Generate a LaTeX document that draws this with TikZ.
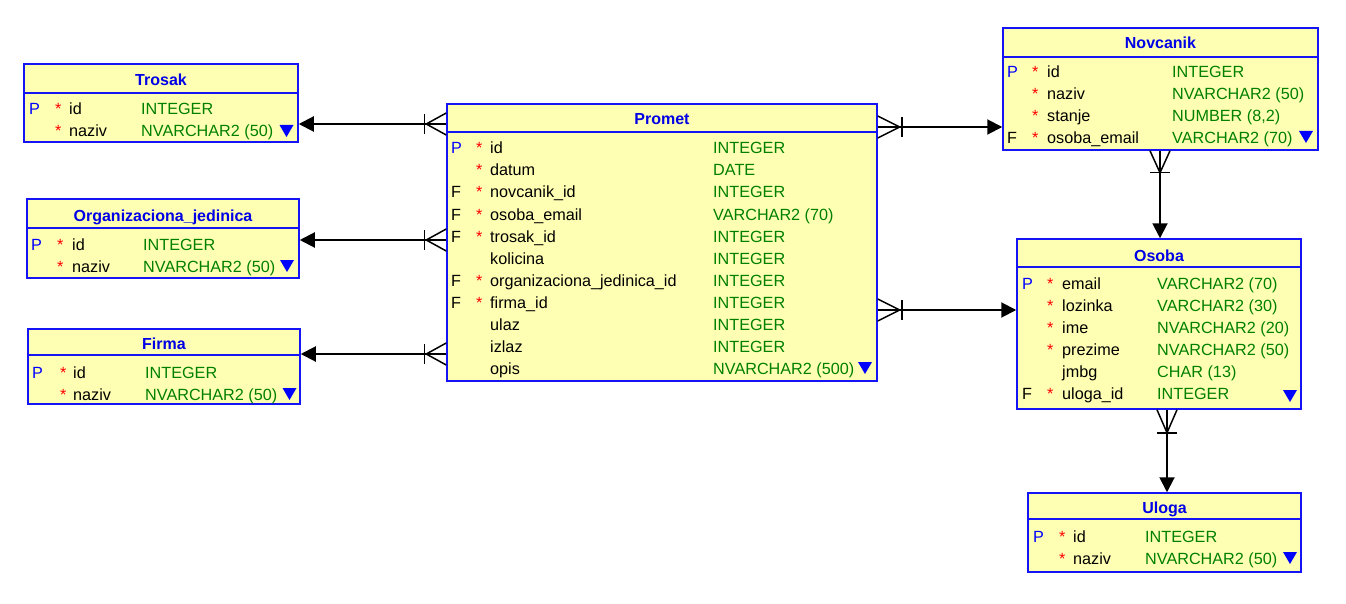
\documentclass[tikz,border=0pt]{standalone}
\usepackage{fontspec}
\setmainfont{Liberation Sans}
\usetikzlibrary{arrows.meta}

\definecolor{tblfill}{RGB}{255,255,180}
\definecolor{tblline}{RGB}{20,20,245}
\definecolor{ttl}{RGB}{0,0,230}
\definecolor{typegreen}{RGB}{0,128,0}
\definecolor{keyblue}{RGB}{0,0,255}

\newcommand\pk{\textcolor{keyblue}{P}}
\newcommand\req{\textcolor{red}{*}}

% table frame with header rule and title
\newcommand\erbox[8]{%
  \node[tablebox, minimum width={#4-#2}, minimum height={#5-#3}] (#1) at ({(#2+#4)/2},{(#3+#5)/2}) {};
  \draw[divider] (#1.west |- 0,#6) -- (#1.east |- 0,#6);
  \node[ttext] (#1-title) at ({(#2+#4)/2},#7) {#8};
}
% column rows: flag / mandatory mark / column name / data type
\newcommand\fields[7]{%
  \foreach \f/\s/\n/\t [count=\i] in {#7}{%
    \pgfmathsetmacro\yy{#6+22*(\i-1)}
    \node[ftext] (#1-k\i) at (#2,\yy) {\f};
    \node[ftext] (#1-r\i) at (#3,\yy) {\s};
    \node[tname] (#1-n\i) at (#4,\yy) {\n};
    \node[ttype] (#1-t\i) at (#5,\yy) {\t};
  }%
}
% "more columns" marker
\newcommand\moremark[2]{\fill[more] (#1-7,#2) -- (#1+7,#2) -- (#1,#2+12) -- cycle;}
% crow's foot on a horizontal end (dir = +1 to the right, -1 to the left)
\newcommand\crowh[3]{%
  \draw[crow] (#1) ++(0,-11) -- ++(#2*#3,11) -- ++(-#2*#3,11);
  \draw[crow] (#1) ++(#2*#3+#2*2,-10) -- ++(0,20);
}
% crow's foot on a vertical end, pointing down
\newcommand\crowv[2]{%
  \draw[crow] (#1) ++(-10,0) -- ++(10,#2) -- ++(10,-#2);
  \draw[crow] (#1) ++(-10,#2) -- ++(20,0);
}

\tikzset{
  tablebox/.style={draw=tblline, fill=tblfill, line width=1.5pt, inner sep=0pt},
  divider/.style={draw=tblline, line width=1.5pt},
  ttext/.style={font=\fontsize{16}{19}\selectfont\bfseries, text=ttl, anchor=base, inner sep=0pt},
  ftext/.style={font=\fontsize{16.2}{19}\selectfont, anchor=base west, inner sep=0pt},
  tname/.style={ftext, text=black},
  ttype/.style={ftext, text=typegreen},
  rel/.style={line width=2pt, -{Triangle[length=15pt,width=15pt]}},
  crow/.style={line width=1.5pt},
  more/.style={fill=keyblue}
}

\begin{document}
\begin{tikzpicture}[x=1pt,y=-1pt]
\useasboundingbox (0,0) rectangle (1346,604);

% Trosak
\erbox{trosak}{24}{64}{298}{142}{93}{86}{Trosak}
\fields{trosak}{29}{55}{69}{141}{115}{\pk/\req/id/INTEGER, {}/\req/naziv/{NVARCHAR2 (50)}}
\moremark{286.5}{125}

% Organizaciona_jedinica
\erbox{org}{27}{199}{299}{278}{228}{222}{Organizaciona\_jedinica}
\fields{org}{31}{57}{72}{143}{250}{\pk/\req/id/INTEGER, {}/\req/naziv/{NVARCHAR2 (50)}}
\moremark{287}{260}

% Firma
\erbox{firma}{28}{329}{300}{404}{355}{349}{Firma}
\fields{firma}{32}{60}{73}{145}{378}{\pk/\req/id/INTEGER, {}/\req/naziv/{NVARCHAR2 (50)}}
\moremark{289.5}{388}

% Promet
\erbox{promet}{447}{104}{877}{381}{132}{125}{Promet}
\fields{promet}{451}{476}{490}{713}{154}{%
  \pk/\req/id/INTEGER,
  {}/\req/datum/DATE,
  F/\req/novcanik\_id/INTEGER,
  F/\req/osoba\_email/{VARCHAR2 (70)},
  F/\req/trosak\_id/INTEGER,
  {}/{}/kolicina/INTEGER,
  F/\req/organizaciona\_jedinica\_id/INTEGER,
  F/\req/firma\_id/INTEGER,
  {}/{}/ulaz/INTEGER,
  {}/{}/izlaz/INTEGER,
  {}/{}/opis/{NVARCHAR2 (500)}}
\moremark{865}{362}

% Novcanik
\erbox{novcanik}{1003}{28}{1318}{150}{57}{49}{Novcanik}
\fields{novcanik}{1007}{1032}{1047}{1172}{78}{%
  \pk/\req/id/INTEGER,
  {}/\req/naziv/{NVARCHAR2 (50)},
  {}/\req/stanje/{NUMBER (8,2)},
  F/\req/osoba\_email/{VARCHAR2 (70)}}
\moremark{1306}{131}

% Osoba
\erbox{osoba}{1017}{239}{1301}{409}{267}{261}{Osoba}
\fields{osoba}{1022}{1047}{1062}{1157}{289}{%
  \pk/\req/email/{VARCHAR2 (70)},
  {}/\req/lozinka/{VARCHAR2 (30)},
  {}/\req/ime/{NVARCHAR2 (20)},
  {}/\req/prezime/{NVARCHAR2 (50)},
  {}/{}/jmbg/{CHAR (13)},
  F/\req/uloga\_id/INTEGER}
\moremark{1290}{390}

% Uloga
\erbox{uloga}{1028}{493}{1301}{572}{519}{513}{Uloga}
\fields{uloga}{1033}{1059}{1073}{1145}{542}{\pk/\req/id/INTEGER, {}/\req/naziv/{NVARCHAR2 (50)}}
\moremark{1290}{552}

% relations from Promet to the left tables
\draw[rel] (promet.west |- 0,124) -- (trosak.east |- 0,124);
\crowh{promet.west |- 0,124}{-1}{20}
\draw[rel] (promet.west |- 0,240) -- (org.east |- 0,240);
\crowh{promet.west |- 0,240}{-1}{20}
\draw[rel] (promet.west |- 0,354) -- (firma.east |- 0,354);
\crowh{promet.west |- 0,354}{-1}{20}

% relations from Promet to the right tables
\draw[rel] (promet.east |- 0,127) -- (novcanik.west |- 0,127);
\crowh{promet.east |- 0,127}{1}{22}
\draw[rel] (promet.east |- 0,310) -- (osoba.west |- 0,310);
\crowh{promet.east |- 0,310}{1}{22}

% Novcanik -> Osoba, Osoba -> Uloga
\draw[rel] (novcanik.south -| 1160,0) -- (osoba.north -| 1160,0);
\crowv{novcanik.south -| 1160,0}{22}
\draw[rel] (osoba.south -| 1167,0) -- (uloga.north -| 1167,0);
\crowv{osoba.south -| 1167,0}{23}

\end{tikzpicture}
\end{document}
